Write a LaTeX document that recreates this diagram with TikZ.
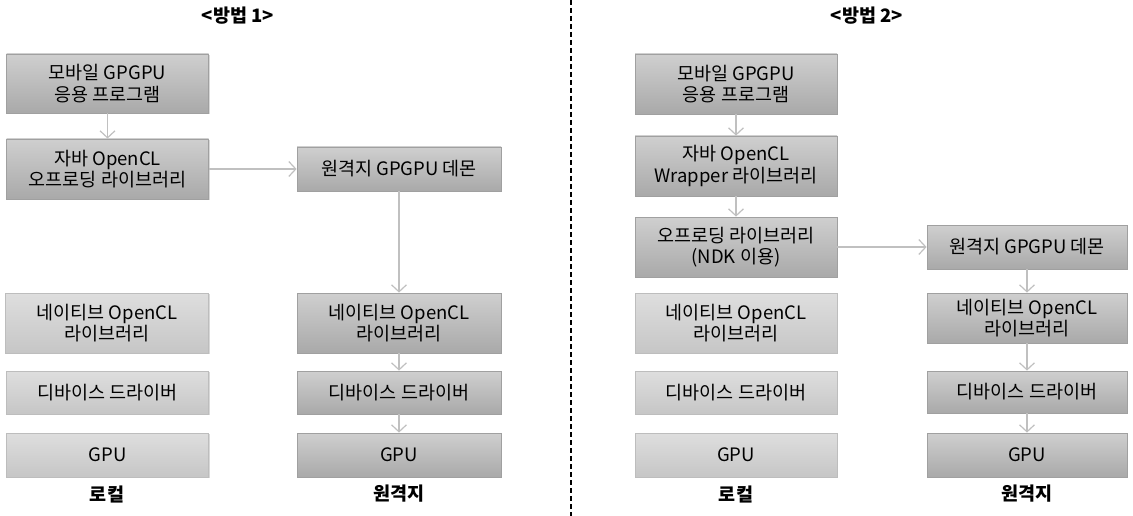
\documentclass[tikz,border=0pt]{standalone}
\usepackage{fontspec}
\setmainfont{Noto Sans CJK KR}
\usetikzlibrary{arrows.meta,shadows}
\definecolor{dtop}{HTML}{CFCFCF}
\definecolor{dbot}{HTML}{A9A9A9}
\definecolor{ltop}{HTML}{DEDEDE}
\definecolor{lbot}{HTML}{C6C6C6}
\definecolor{dline}{HTML}{A0A0A0}
\definecolor{lline}{HTML}{BDBDBD}
\definecolor{arr}{HTML}{C0C0C0}
\tikzset{
  base/.style={rectangle, minimum width=202pt, align=center, font=\fontsize{18.5}{21.5}\selectfont, inner sep=0pt, line width=0.8pt,
    drop shadow={shadow xshift=1.2pt, shadow yshift=-1.2pt, fill=black, opacity=0.15}},
  dark/.style={base, draw=dline, top color=dtop, bottom color=dbot},
  light/.style={base, draw=lline, top color=ltop, bottom color=lbot},
  conn/.style={draw=arr, line width=1.4pt, -{Straight Barb[length=7pt,width=15pt,line width=1.2pt]}},
  ttl/.style={font=\bfseries\fontsize{18.5}{20}\selectfont},
}
\begin{document}
\begin{tikzpicture}[x=1pt,y=-1pt]
\useasboundingbox (0,0) rectangle (1133,516);
% titles
\node[ttl] (t1) at (238,16) {<방법 1>};
\node[ttl] (t2) at (867,16) {<방법 2>};
% divider
\coordinate (dtop) at (571,0);
\coordinate (dbot) at (571,516);
\draw[black, line width=1.2pt, dash pattern=on 5pt off 3pt] (dtop) -- (dbot);

% ---- method 1 ----
\node[dark, minimum height=59pt] (a1) at (107.5,83.5) {모바일 GPGPU\\응용 프로그램};
\node[dark, minimum height=60pt] (a2) at (107.5,169) {자바 OpenCL\\오프로딩 라이브러리};
\node[dark, minimum height=44pt, minimum width=204pt] (a3) at (399,169) {원격지 GPGPU 데몬};
\node[light, minimum height=60pt, minimum width=203pt] (a4) at (107,323) {네이티브 OpenCL\\라이브러리};
\node[light, minimum height=43pt] (a5) at (107.5,392.5) {디바이스 드라이버};
\node[light, minimum height=44pt] (a6) at (107.5,455) {GPU};
\node[dark, minimum height=60pt, minimum width=204pt] (a7) at (399,323) {네이티브 OpenCL\\라이브러리};
\node[dark, minimum height=43pt, minimum width=204pt] (a8) at (399,392.5) {디바이스 드라이버};
\node[dark, minimum height=44pt, minimum width=204pt] (a9) at (399,455) {GPU};
\node[ttl] (l1) at (107,494) {로컬};
\node[ttl] (r1) at (399,494) {원격지};
\draw[conn] (a1) -- (a2);
\draw[conn] (a2) -- (a3);
\draw[conn] (a3) -- (a7);
\draw[conn] (a7) -- (a8);
\draw[conn] (a8) -- (a9);

% ---- method 2 ----
\node[dark, minimum height=60pt] (b1) at (736,84) {모바일 GPGPU\\응용 프로그램};
\node[dark, minimum height=60pt] (b2) at (736,166) {자바 OpenCL\\Wrapper 라이브러리};
\node[dark, minimum height=60pt] (b3) at (736,247) {오프로딩 라이브러리\\(NDK 이용)};
\node[light, minimum height=60pt] (b4) at (736,323) {네이티브 OpenCL\\라이브러리};
\node[light, minimum height=43pt] (b5) at (736,392.5) {디바이스 드라이버};
\node[light, minimum height=44pt] (b6) at (736,455) {GPU};
\node[dark, minimum height=44pt, minimum width=200pt] (b7) at (1027,247) {원격지 GPGPU 데몬};
\node[dark, minimum height=50pt, minimum width=200pt] (b8) at (1027,318) {네이티브 OpenCL\\라이브러리};
\node[dark, minimum height=42pt, minimum width=200pt] (b9) at (1027,392) {디바이스 드라이버};
\node[dark, minimum height=44pt, minimum width=200pt] (b10) at (1027,455) {GPU};
\node[ttl] (l2) at (736,494) {로컬};
\node[ttl] (r2) at (1027,494) {원격지};
\draw[conn] (b1) -- (b2);
\draw[conn] (b2) -- (b3);
\draw[conn] (b3) -- (b7);
\draw[conn] (b7) -- (b8);
\draw[conn] (b8) -- (b9);
\draw[conn] (b9) -- (b10);
\end{tikzpicture}
\end{document}
